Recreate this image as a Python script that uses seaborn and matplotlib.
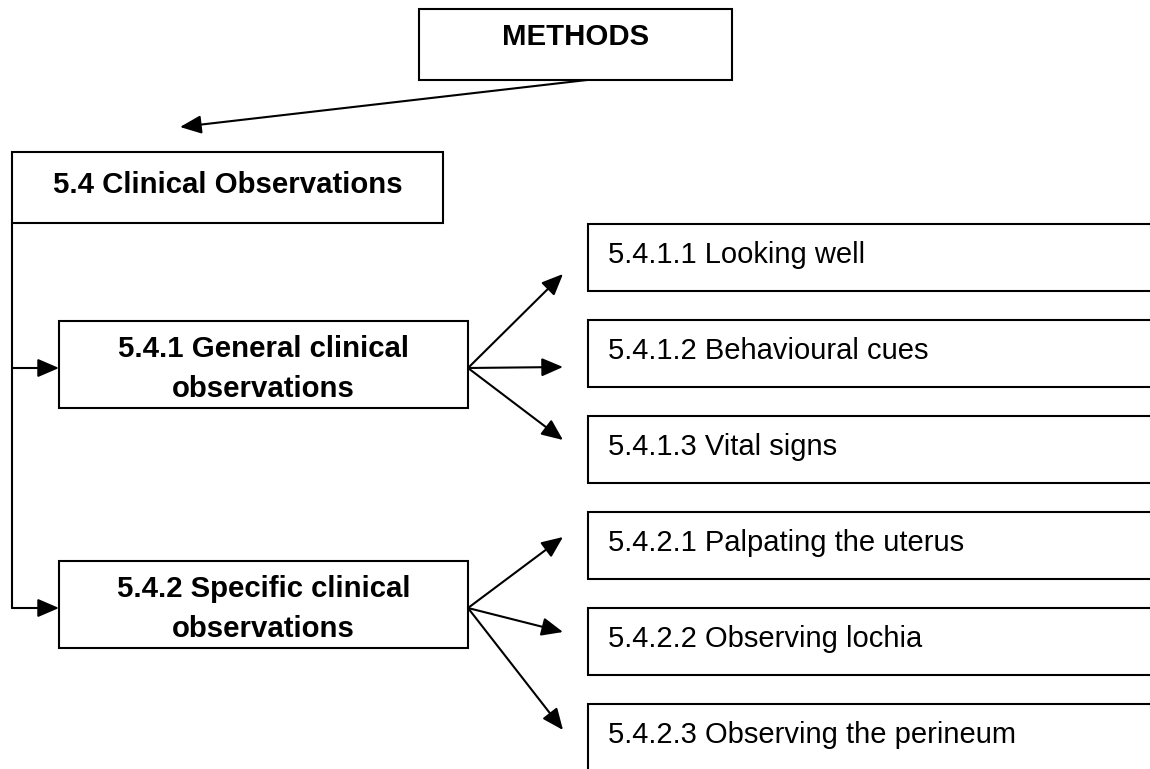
import matplotlib
matplotlib.use("Agg")
import matplotlib.pyplot as plt
from matplotlib.patches import Rectangle
import seaborn as sns

# Node labels of the flowchart
top_label = "METHODS"
section_label = "5.4 Clinical Observations"
group_labels = ["5.4.1 General clinical\nobservations",
                "5.4.2 Specific clinical\nobservations"]
item_labels = [
    ["5.4.1.1 Looking well", "5.4.1.2 Behavioural cues", "5.4.1.3 Vital signs"],
    ["5.4.2.1 Palpating the uterus", "5.4.2.2 Observing lochia",
     "5.4.2.3 Observing the perineum"],
]

# Layout (pixel units, y grows downwards)
W, H = 1150, 769
LW = 1.5
BOLD_SIZE = 21.2
NORMAL_SIZE = 21

top_box = (419, 9, 313, 71)
section_box = (12, 152, 431, 71)
group_x, group_w, group_h = 59, 409, 87
group_tops = [321, 561]
item_x, item_h, item_step = 588, 67, 96
item_top0 = 224
arrow_tip_x = 563


def box(ax, x, y, w, h, open_right=False):
    if open_right:
        # right side runs off the page
        ax.plot([x + w, x, x, x + w], [y, y, y + h, y + h],
                color="black", lw=LW, solid_joinstyle="miter")
    else:
        ax.add_patch(Rectangle((x, y), w, h, fill=False,
                               edgecolor="black", lw=LW, joinstyle="miter"))


def arrow(ax, start, end):
    ax.annotate("", xy=end, xytext=start,
                arrowprops=dict(arrowstyle="-|>,head_length=0.65,head_width=0.28",
                                mutation_scale=20, color="black", lw=LW,
                                shrinkA=0, shrinkB=0))


def draw():
    sns.set_style("white")
    plt.rcParams["font.family"] = ["Liberation Sans", "DejaVu Sans"]
    plt.rcParams["text.color"] = "black"

    fig = plt.figure(figsize=(W / 100, H / 100), dpi=100)
    ax = fig.add_axes([0, 0, 1, 1])
    ax.set_xlim(0, W)
    ax.set_ylim(H, 0)
    ax.axis("off")

    # top node
    x, y, w, h = top_box
    box(ax, x, y, w, h)
    ax.text(x + w / 2, y + 36, top_label, ha="center", va="baseline",
            fontsize=BOLD_SIZE, fontweight="bold")
    arrow(ax, (587, y + h), (180, 127))

    # section node
    x, y, w, h = section_box
    box(ax, x, y, w, h)
    ax.text(x + w / 2, y + 41, section_label, ha="center", va="baseline",
            fontsize=BOLD_SIZE, fontweight="bold")

    # spine down the left side
    spine_x = x
    arrow_ys = [group_tops[0] + 47, group_tops[1] + 47]
    ax.plot([spine_x, spine_x], [y + h, arrow_ys[-1]], color="black", lw=LW)

    for g, (label, top) in enumerate(zip(group_labels, group_tops)):
        box(ax, group_x, top, group_w, group_h)
        for k, line in enumerate(label.split("\n")):
            ax.text(group_x + group_w / 2, top + 36 + 40 * k, line,
                    ha="center", va="baseline", fontsize=BOLD_SIZE,
                    fontweight="bold")
        arrow(ax, (spine_x, arrow_ys[g]), (group_x, arrow_ys[g]))

        origin = (group_x + group_w, arrow_ys[g])
        for i, item in enumerate(item_labels[g]):
            row = g * 3 + i
            itop = item_top0 + row * item_step
            box(ax, item_x, itop, W + 20 - item_x, item_h, open_right=True)
            ax.text(item_x + 20, itop + 39, item, ha="left", va="baseline",
                    fontsize=NORMAL_SIZE)
            # arrow tips sit a bit outside each item box
            tip_y = [itop + 50, itop + 47, itop + 24][i] if g == 0 else \
                [itop + 25, itop + 24, itop + 26][i]
            arrow(ax, origin, (arrow_tip_x, tip_y))

    fig.savefig("out.png", dpi=100)


if __name__ == "__main__":
    draw()
